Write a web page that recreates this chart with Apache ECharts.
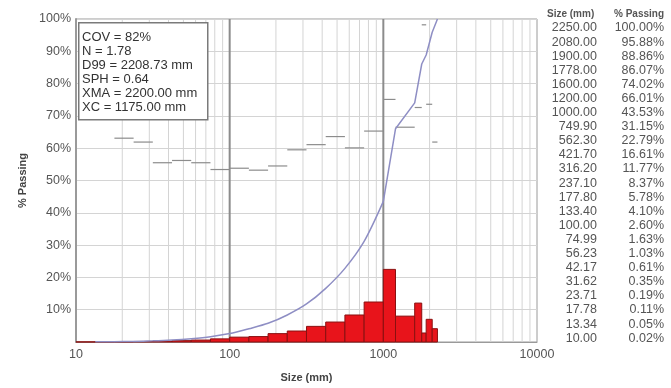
<!DOCTYPE html>
<html>
<head>
<meta charset="utf-8">
<script src="https://cdn.jsdelivr.net/npm/echarts@6/dist/echarts.min.js"></script>
<style>
  html, body { margin: 0; padding: 0; background: #fff; }
  #chart { width: 671px; height: 388px; }
</style>
</head>
<body>
<div id="chart"></div>
<script>
// size table (descending, as printed on the right)
const sizes = [2250, 2080, 1900, 1778, 1600, 1200, 1000, 749.9, 562.3, 421.7, 316.2,
  237.1, 177.8, 133.4, 100, 74.99, 56.23, 42.17, 31.62, 23.71, 17.78, 13.34, 10];
const passing = [100, 95.88, 88.86, 86.07, 74.02, 66.01, 43.53, 31.15, 22.79, 16.61, 11.77,
  8.37, 5.78, 4.10, 2.60, 1.63, 1.03, 0.61, 0.35, 0.19, 0.11, 0.05, 0.02];

// histogram bins (ascending edges) and % retained per bin
const binEdges = [10, 13.34, 17.78, 23.71, 31.62, 42.17, 56.23, 74.99, 100, 133.4, 177.8,
  237.1, 316.2, 421.7, 562.3, 749.9, 1000, 1200, 1600, 1778, 1900, 2080, 2250];
const retained = [0.03, 0.06, 0.08, 0.16, 0.26, 0.42, 0.60, 0.97, 1.50, 1.68, 2.59,
  3.40, 4.84, 6.18, 8.36, 12.38, 22.48, 8.01, 12.05, 2.79, 7.02, 4.12];
// little grey dashes per bin
const dashes = [null, null, 63.1, 61.9, 55.5, 56.2, 55.5, 53.4, 53.8, 53.2, 54.5,
  59.5, 61.1, 63.6, 60.1, 65.3, 75.1, 66.5, 72.6, 98.2, 73.6, 61.9];

const stats = ['COV = 82%', 'N = 1.78', 'D99 = 2208.73 mm', 'SPH = 0.64',
  'XMA = 2200.00 mm', 'XC = 1175.00 mm'];
const yTicks = [10, 20, 30, 40, 50, 60, 70, 80, 90, 100];

let barData = [];
let dashData = [];
for (let i = 0; i < retained.length; i++) {
  barData.push([binEdges[i], binEdges[i + 1], retained[i]]);
  if (dashes[i] != null) dashData.push([binEdges[i], binEdges[i + 1], dashes[i]]);
}

// passing curve: smooth up to 1000 mm, straight pieces above
let curveLow = [];
let curveHigh = [];
for (let i = sizes.length - 2; i >= 0; i--) {
  if (sizes[i] <= 1000) curveLow.push([sizes[i], passing[i]]);
  if (sizes[i] >= 1000) curveHigh.push([sizes[i], passing[i]]);
}

// log grid positions 20..90, 200..900, 2000..9000, plus the decade lines
let vLines = [];
for (let d = 10; d < 10000; d *= 10) {
  for (let k = 2; k <= 9; k++) vLines.push([d * k, 0]);
}
vLines.push([100, 1], [1000, 1]);

const chart = echarts.init(document.getElementById('chart'));

const font = '"Liberation Sans", Arial';
let tableGraphics = [
  { type: 'text', left: 547, top: 9, style: { text: 'Size (mm)', font: 'bold 10px ' + font, fill: '#555' } },
  { type: 'text', left: 614, top: 9, style: { text: '% Passing', font: 'bold 10px ' + font, fill: '#555' } }
];
for (let i = 0; i < sizes.length; i++) {
  let y = 28 + i * 14.1;
  tableGraphics.push({
    type: 'text', x: 597, y: y,
    style: { text: sizes[i].toFixed(2), font: '12.5px ' + font, fill: '#555', align: 'right', verticalAlign: 'middle' }
  });
  tableGraphics.push({
    type: 'text', x: 664, y: y,
    style: { text: passing[i].toFixed(2) + '%', font: '12.5px ' + font, fill: '#555', align: 'right', verticalAlign: 'middle' }
  });
}

const curveStyle = { color: '#8e8ec4', width: 1.5 };

let option = {
  animation: false,
  backgroundColor: '#fff',
  grid: { left: 76, right: 134, top: 19, bottom: 41, show: true, borderColor: '#9a9a9a', borderWidth: 1 },
  xAxis: {
    type: 'log', logBase: 10, min: 10, max: 10000,
    axisLine: { show: true, lineStyle: { color: '#9a9a9a', width: 1 } },
    axisTick: { show: false },
    splitLine: { show: false },
    axisLabel: { color: '#555', fontSize: 12.5, fontFamily: font, margin: 6, formatter: v => String(Math.round(v)) },
    name: 'Size (mm)', nameLocation: 'middle', nameGap: 30,
    nameTextStyle: { fontWeight: 'bold', fontSize: 11, color: '#444', fontFamily: font }
  },
  yAxis: {
    type: 'value', min: 0, max: 100, interval: 10,
    axisLine: { show: true, lineStyle: { color: '#9a9a9a', width: 2 } },
    axisTick: { show: false },
    splitLine: { show: true, lineStyle: { color: '#d4d4d4', width: 1 } },
    axisLabel: {
      color: '#555', fontSize: 12.5, fontFamily: font, margin: 5,
      formatter: v => (yTicks.indexOf(v) >= 0 ? v + '%' : '')
    },
    name: '% Passing', nameLocation: 'middle', nameGap: 48,
    nameTextStyle: { fontWeight: 'bold', fontSize: 11, color: '#444', fontFamily: font }
  },
  series: [
    {
      type: 'custom', z: 1, silent: true,
      data: vLines,
      encode: { x: 0 },
      renderItem(params, api) {
        let top = api.coord([api.value(0), 100]);
        let bot = api.coord([api.value(0), 0]);
        let major = api.value(1) === 1;
        return {
          type: 'line',
          shape: { x1: top[0], y1: top[1], x2: bot[0], y2: bot[1] },
          style: { stroke: major ? '#8c8c8c' : '#d4d4d4', lineWidth: major ? 2 : 1 }
        };
      }
    },
    {
      type: 'custom', z: 3, silent: true,
      data: barData,
      encode: { x: [0, 1], y: 2 },
      renderItem(params, api) {
        let p0 = api.coord([api.value(0), 0]);
        let p1 = api.coord([api.value(1), api.value(2)]);
        return {
          type: 'rect',
          shape: { x: p0[0], y: p1[1], width: p1[0] - p0[0], height: p0[1] - p1[1] },
          style: { fill: '#e8141b', stroke: '#8a1010', lineWidth: 1 }
        };
      }
    },
    {
      type: 'custom', z: 4, silent: true,
      data: dashData,
      encode: { x: [0, 1], y: 2 },
      renderItem(params, api) {
        let p0 = api.coord([api.value(0), api.value(2)]);
        let p1 = api.coord([api.value(1), api.value(2)]);
        return {
          type: 'line',
          shape: { x1: p0[0], y1: p0[1], x2: p1[0], y2: p1[1] },
          style: { stroke: '#8c8c8c', lineWidth: 1.2 }
        };
      }
    },
    {
      type: 'line', z: 5, silent: true,
      data: curveLow,
      showSymbol: false,
      smooth: 0.3,
      lineStyle: curveStyle
    },
    {
      type: 'line', z: 5, silent: true,
      data: curveHigh,
      showSymbol: false,
      lineStyle: curveStyle
    }
  ],
  graphic: [
    {
      type: 'rect', left: 78, top: 22, z: 10,
      shape: { width: 129, height: 97 },
      style: { fill: '#fff', stroke: '#7a7a7a', lineWidth: 1.5 }
    },
    {
      type: 'text', left: 82, top: 30, z: 11,
      style: {
        text: stats.join('\n'),
        font: '13px ' + font, lineHeight: 14, fill: '#333'
      }
    }
  ].concat(tableGraphics)
};

chart.setOption(option);
</script>
</body>
</html>
